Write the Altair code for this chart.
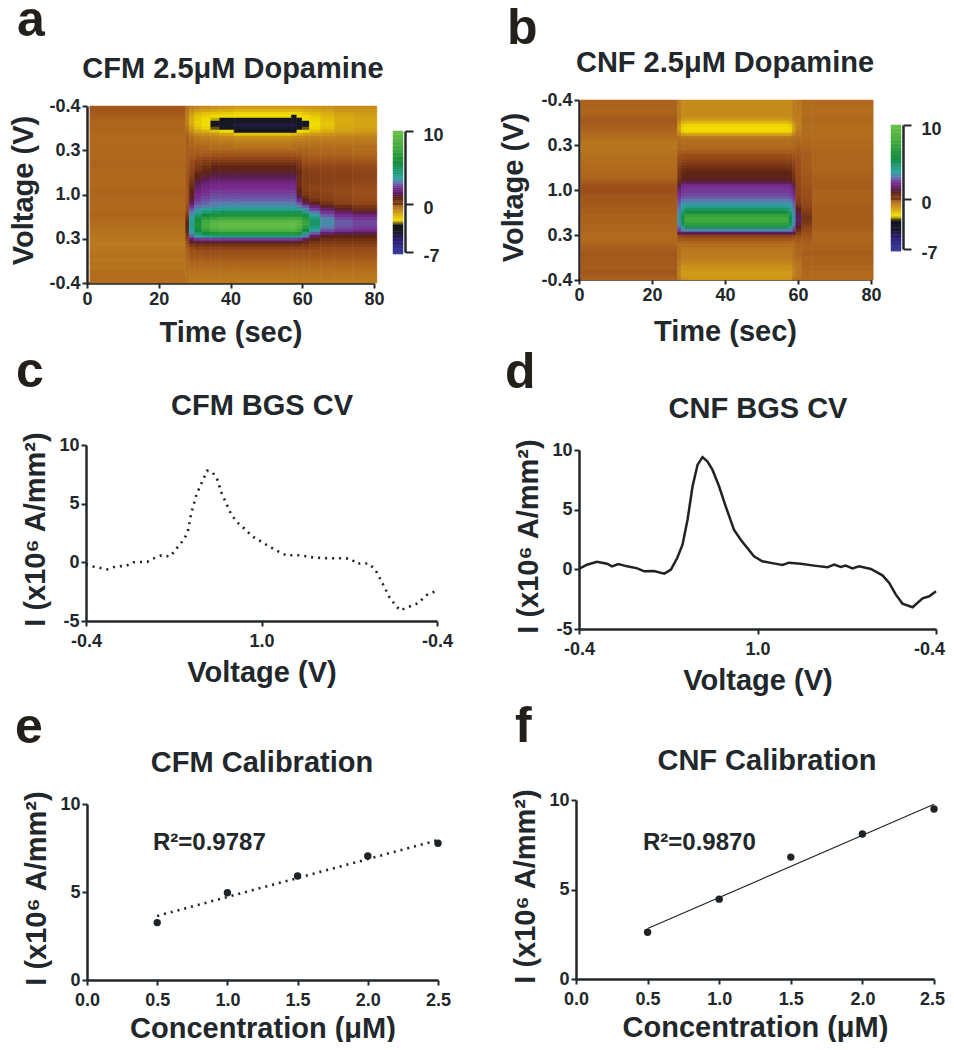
import altair as alt
import pandas as pd

W, H = 938, 1034
INK = "#22272b"
FONT = "Liberation Sans"

# ---------- colour map ----------
CMAP_V = [-7.3, -5.2, -4.2, -3.0, -2.7, -2.3, -1.2, -0.5, 0, 0.8, 1.4, 2.2, 3.0, 3.6, 4.4, 5.6, 7.5, 10]
CMAP_C = ["#3a40a0", "#2a1a70", "#1a1a28", "#14141c", "#8a7a10", "#f0dc00", "#cf9a18", "#b8761f", "#9c4f1a",
          "#5e2412", "#5a1f55", "#7a2a90", "#5f78b0", "#2fa0a0", "#1f9c78", "#128a3c", "#3ea83f", "#6cc04a"]
BAR_LEVELS = [-7.3, -7, -6.5, -6, -5.5, -5, -4.5, -4, -3.5, -3, -2.8, -2.6, -2.4, -2.2, -2, -1.75, -1.5, -1.25, -1,
              -0.75, -0.5, -0.25, 0, 0.25, 0.5, 0.75, 1, 1.25, 1.5, 1.75, 2, 2.25, 2.5, 2.75, 3, 3.25, 3.5, 3.75, 4,
              4.25, 4.5, 4.75, 5, 5.25, 5.5, 5.75, 6, 6.5, 7, 7.5, 8, 8.5, 9, 9.5, 10]

# ---------- panel a: current by time column (rows run top to bottom of the scan) ----------
A_TAIL = [-0.05, -0.1, -0.2, -0.3, -0.35, -0.4, -0.45, -0.5, -0.55, -0.6]
A_PLAT_MID = [-0.35, -0.2, -0.05, 0.15, 0.35, 0.6, 0.8, 0.95, 1.1, 1.3, 1.6, 1.9, 2.1, 2.2, 2.35, 2.5, 2.6, 2.8, 3.0]
A_PLAT_LOW = [3.4, 4, 5, 6.2, 7.5, 9, 9.6, 9.4, 8.5, 6.5, 4.5, 2.4, 1.1, 0.5, 0.2, 0]
A_COLS = [
 (0.8, 27.5,
  [-0.1,-0.1,-0.15,-0.2,-0.25,-0.3,-0.3,-0.3,-0.3,-0.35,-0.35,-0.35,-0.35,-0.35],
  [-0.35,-0.35,-0.35,-0.35,-0.3,-0.3,-0.3,-0.35,-0.35,-0.35,-0.35,-0.35,-0.35,-0.3,-0.3,-0.3,-0.3,-0.35,-0.35],
  [-0.35,-0.35,-0.3,-0.3,-0.35,-0.4,-0.4,-0.4,-0.45,-0.45,-0.5,-0.5,-0.55,-0.55,-0.5,-0.5],
  [-0.45,-0.45,-0.5,-0.45,-0.5,-0.45,-0.4,-0.4,-0.4,-0.4]),
 (27.5, 28.5,
  [-0.4,-0.5,-0.6,-0.7,-0.7,-0.7,-0.6,-0.5,-0.4,-0.3,-0.2,-0.2,-0.2,-0.2],
  [-0.2,-0.2,-0.2,-0.2,-0.2,-0.2,-0.15,-0.15,-0.1,-0.1,-0.1,-0.1,-0.1,-0.1,-0.1,-0.1,-0.1,-0.1,-0.1],
  [0,0.1,0.2,0.4,0.6,0.8,0.9,0.9,0.8,0.6,0.4,0.2,0,-0.1,-0.2,-0.25],
  [-0.3,-0.3,-0.35,-0.35,-0.4,-0.4,-0.45,-0.45,-0.45,-0.45]),
 (28.5, 30,
  [-0.6,-0.9,-1.2,-1.4,-1.5,-1.5,-1.4,-1.2,-0.9,-0.6,-0.4,-0.35,-0.3,-0.3],
  [-0.2,-0.2,-0.15,-0.1,0,0.1,0.1,0.2,0.2,0.3,0.4,0.5,0.6,0.7,0.8,0.9,1.0,1.2,1.5],
  [2.2,2.6,3,3.3,3.6,3.8,3.9,3.9,3.7,3.3,2.7,1.7,0.9,0.4,0.1,-0.05], A_TAIL),
 (30, 32,
  [-0.8,-1.2,-1.6,-1.9,-2.0,-2.1,-2.0,-1.8,-1.4,-0.9,-0.6,-0.5,-0.4,-0.3],
  [-0.25,-0.2,-0.1,0,0.2,0.3,0.4,0.5,0.7,0.8,1.0,1.3,1.5,1.7,1.9,2.1,2.2,2.4,2.6],
  [2.9,3.3,3.8,4.6,5.4,5.9,6.1,6,5.6,4.8,3.6,2.3,1.1,0.5,0.2,0], A_TAIL),
 (32, 34.5,
  [-0.9,-1.3,-1.8,-2.1,-2.3,-2.3,-2.3,-2.1,-1.6,-1.0,-0.7,-0.5,-0.45,-0.35],
  [-0.3,-0.2,-0.1,0.1,0.3,0.4,0.6,0.7,0.9,1.1,1.4,1.7,1.9,2.1,2.2,2.3,2.5,2.6,2.8],
  [3.1,3.6,4.5,5.6,6.6,7.6,8,7.8,7,5.7,4.2,2.4,1.1,0.5,0.2,0], A_TAIL),
 (34.5, 37,
  [-1.0,-1.4,-1.9,-2.3,-2.5,-3.3,-3.6,-2.8,-1.9,-1.1,-0.8,-0.6,-0.5,-0.4],
  A_PLAT_MID, [3.2,3.8,4.8,6,7.2,8.6,9.2,9,8,6.2,4.4,2.4,1.1,0.5,0.2,0], A_TAIL),
 (37, 41,
  [-1.1,-1.5,-2.0,-2.3,-3.3,-3.8,-4.0,-3.7,-2.3,-1.4,-0.9,-0.7,-0.5,-0.4],
  A_PLAT_MID, A_PLAT_LOW, A_TAIL),
 (41, 57,
  [-1.2,-1.6,-2.2,-2.3,-3.6,-4.0,-4.6,-4.2,-3.2,-1.9,-1.0,-0.8,-0.6,-0.5],
  A_PLAT_MID, A_PLAT_LOW, A_TAIL),
 (57, 58.5,
  [-1.2,-1.6,-2.2,-3.2,-3.7,-4.0,-4.6,-4.0,-3.1,-1.7,-0.9,-0.7,-0.5,-0.4],
  A_PLAT_MID, A_PLAT_LOW, A_TAIL),
 (58.5, 60,
  [-1.2,-1.6,-2.1,-2.3,-3.2,-3.8,-4.0,-3.6,-2.3,-1.5,-0.9,-0.7,-0.5,-0.4],
  [-0.3,-0.2,-0.1,0.1,0.3,0.4,0.5,0.6,0.7,0.6,0.6,0.6,0.6,0.7,0.8,1.0,1.5,2.0,2.6],
  [3,3.8,5,6.2,7.5,8.8,9,8.6,7.6,6.2,4.4,2.3,1,0.5,0.2,0], A_TAIL),
 (60, 62,
  [-1.1,-1.5,-1.9,-2.2,-2.3,-3.1,-3.4,-2.8,-2.2,-1.3,-0.8,-0.6,-0.5,-0.4],
  [-0.3,-0.25,-0.2,-0.1,0,0.1,0.2,0.3,0.35,0.35,0.35,0.35,0.3,0.3,0.35,0.4,0.6,0.9,1.5],
  [2.6,3.2,4.2,5.4,6.5,7.2,7.4,6.8,5.6,4.2,2.9,1.5,0.7,0.4,0.2,0], A_TAIL),
 (62, 65,
  [-1.1,-1.4,-1.7,-2.0,-2.2,-2.3,-2.3,-2.2,-1.8,-1.2,-0.8,-0.6,-0.5,-0.4],
  [-0.35,-0.3,-0.25,-0.15,-0.05,0.05,0.15,0.25,0.3,0.3,0.3,0.3,0.25,0.2,0.25,0.3,0.35,0.5,0.9],
  [1.8,2.4,3,3.6,4.4,4.8,4.8,4.3,3.6,2.7,1.6,0.8,0.5,0.3,0.15,0], A_TAIL),
 (65, 69,
  [-1.0,-1.3,-1.5,-1.7,-1.8,-1.9,-1.9,-1.8,-1.5,-1.1,-0.8,-0.6,-0.5,-0.4],
  [-0.35,-0.3,-0.25,-0.15,-0.05,0.05,0.15,0.2,0.25,0.25,0.25,0.25,0.2,0.15,0.15,0.2,0.25,0.3,0.5],
  [1,1.7,2.3,2.7,3.1,3.3,3.3,3,2.6,1.7,0.9,0.6,0.4,0.25,0.1,0], A_TAIL),
 (69, 74,
  [-0.9,-1.1,-1.3,-1.4,-1.5,-1.5,-1.5,-1.4,-1.3,-1.0,-0.7,-0.6,-0.5,-0.4],
  [-0.35,-0.3,-0.25,-0.15,-0.05,0.05,0.15,0.2,0.25,0.25,0.25,0.2,0.15,0.1,0.1,0.1,0.15,0.2,0.25],
  [0.6,1,1.6,2.2,2.5,2.7,2.7,2.6,2.3,1.4,0.8,0.55,0.4,0.25,0.1,0], A_TAIL),
 (74, 80.8,
  [-0.9,-1.1,-1.2,-1.3,-1.4,-1.4,-1.4,-1.3,-1.2,-0.9,-0.7,-0.6,-0.5,-0.4],
  [-0.4,-0.35,-0.3,-0.2,-0.1,0,0.1,0.15,0.2,0.2,0.2,0.15,0.1,0.05,0,0,0.05,0.1,0.15],
  [0.4,0.6,1.2,1.9,2.3,2.5,2.5,2.4,2.2,1.3,0.8,0.55,0.4,0.25,0.1,0], A_TAIL),
]

# ---------- panel b ----------
B_PRE = [-0.25,-0.25,-0.25,-0.3,-0.25,-0.2,-0.15,-0.15,-0.2,-0.25, -0.3,-0.35,-0.4,-0.45,-0.5,-0.5,-0.5,-0.45,-0.45,-0.4,
         -0.4,-0.4,-0.35,-0.35,-0.3,-0.3,-0.25,-0.15,-0.05,0, 0,-0.05,-0.1,-0.1,-0.15,-0.15,-0.2,-0.2,-0.25,-0.25,
         -0.25,-0.3,-0.3,-0.3,-0.35,-0.35,-0.35,-0.3,-0.25,-0.2, -0.15,-0.1,-0.15,-0.15,-0.15,-0.2,-0.15,-0.1,-0.15,-0.25]
B_EDGE = [-0.6,-0.6,-0.6,-0.6,-0.6,-0.6,-0.7,-0.9,-1.2,-1.3, -1.2,-0.8,-0.4,-0.35,-0.3,-0.3,-0.25,-0.15,-0.05,0,
          0.1,0.2,0.3,0.4,0.45,0.5,0.55,0.7,1.1,1.6, 1.9,2.1,2.3,2.5,2.7,2.8,3.0,3.2,3.3,3.4,
          3.4,3.2,2.8,2.4,1.1,0.1,-0.1,-0.3,-0.4,-0.4, -0.4,-0.4,-0.4,-0.5,-0.55,-0.6,-0.7,-0.7,-0.7,-0.6]
B_NEAR = [-0.9,-0.9,-0.9,-0.9,-0.9,-0.9,-1.1,-1.5,-2.0,-2.2, -2.1,-1.3,-0.5,-0.4,-0.4,-0.35,-0.3,-0.15,0,0.1,
          0.25,0.4,0.5,0.65,0.75,0.8,0.9,1.2,2.0,2.2, 2.3,2.4,2.6,2.9,3.3,3.6,4.0,4.6,5,5.3,
          5.3,4.8,4,3,1.4,0.2,-0.1,-0.3,-0.4,-0.5, -0.55,-0.6,-0.6,-0.7,-0.8,-1,-1.1,-1.2,-1.2,-1.1]
B_PLAT = [-0.9,-0.9,-0.9,-0.9,-0.9,-0.95,-1.2,-1.7,-2.2,-2.3, -2.25,-1.4,-0.6,-0.4,-0.4,-0.35,-0.3,-0.15,0,0.1,
          0.25,0.4,0.55,0.7,0.8,0.85,0.95,1.3,2.1,2.3, 2.35,2.5,2.7,3.0,3.3,3.8,4.8,5.8,7,7.6,
          7.6,6.8,5.0,3.2,1.4,0.2,-0.1,-0.3,-0.4,-0.5, -0.55,-0.6,-0.6,-0.7,-0.8,-1.0,-1.1,-1.2,-1.2,-1.1]
B_GLOW1 = [-0.5,-0.6,-0.6,-0.6,-0.6,-0.6,-0.6,-0.7,-0.7,-0.7, -0.6,-0.5,-0.4,-0.35,-0.3,-0.25,-0.2,-0.15,-0.1,-0.05,
           0,0,0,0.05,0.05,0.1,0.1,0.1,0.15,0.15, 0.2,0.2,0.25,0.3,0.4,0.6,0.9,1.2,1.4,1.5,
           1.5,1.3,1.0,0.6,0.3,0,-0.1,-0.2,-0.25,-0.3, -0.3,-0.3,-0.35,-0.4,-0.5,-0.5,-0.5,-0.5,-0.5,-0.45]
B_GLOW2 = [-0.35,-0.4,-0.4,-0.4,-0.4,-0.35,-0.35,-0.35,-0.4,-0.4, -0.4,-0.4,-0.35,-0.35,-0.3,-0.3,-0.25,-0.2,-0.2,-0.2,
           -0.2,-0.2,-0.15,-0.15,-0.15,-0.1,-0.1,-0.1,-0.05,-0.05, 0,0,0,0.05,0.1,0.15,0.25,0.35,0.45,0.5,
           0.45,0.35,0.2,0.1,0,-0.1,-0.15,-0.2,-0.25,-0.25, -0.2,-0.2,-0.25,-0.25,-0.25,-0.3,-0.3,-0.35,-0.35,-0.35]
B_POST = [-0.35,-0.35,-0.4,-0.4,-0.4,-0.35,-0.35,-0.35,-0.4,-0.4, -0.4,-0.4,-0.4,-0.35,-0.35,-0.35,-0.3,-0.3,-0.3,-0.3,
          -0.3,-0.3,-0.3,-0.3,-0.25,-0.25,-0.2,-0.2,-0.2,-0.2, -0.25,-0.25,-0.25,-0.25,-0.25,-0.2,-0.2,-0.2,-0.2,-0.2,
          -0.2,-0.2,-0.2,-0.25,-0.3,-0.3,-0.3,-0.3,-0.25,-0.25, -0.2,-0.2,-0.25,-0.25,-0.25,-0.3,-0.3,-0.35,-0.35,-0.35]
B_COLS = [(0.5, 27, B_PRE), (27, 28, B_EDGE), (28, 29, B_NEAR), (29, 57.5, B_PLAT), (57.5, 58.5, B_NEAR),
          (58.5, 59.4, B_EDGE), (59.4, 61, B_GLOW1), (61, 64, B_GLOW2), (64, 80.6, B_POST)]

# ---------- panels c, d: background subtracted CVs (x = position along the scan, 0..200) ----------
C_X = [0,4,12,17,23,27,35,38,43,48,52,56,58,60,63,66,69,72,75,77,80,83,87,90,95,100,105,110,114,122,130,138,147,151,154,161,165,170,173,176,179,182,189,194,200]
C_Y = [-0.15,-0.35,-0.6,-0.35,-0.3,0,0.05,0.3,0.6,0.5,1.25,2,2.6,4.2,5.8,6.8,7.8,7.7,7,6,5,4,3.3,2.9,2.2,1.75,1.3,0.9,0.6,0.6,0.4,0.35,0.35,0.3,-0.1,-0.1,-0.65,-2.1,-3,-3.6,-4.1,-3.9,-3.5,-2.8,-2.4]
D_X = [0,4.5,10,15.7,18.5,22,27,32.7,36.5,42,47.8,51.5,55,58,60.8,63.6,66.4,69.2,72,74.8,78.5,82.2,86.8,90.6,94.3,98,102.7,109,114,117.6,124.2,131.7,139.2,142.9,146.6,149.4,153.2,156.9,163.5,170,173.8,177.5,181.2,186.9,192.5,196.2,200]
D_Y = [0.03,0.39,0.64,0.47,0.25,0.45,0.25,0.08,-0.17,-0.14,-0.36,-0.03,0.95,2.06,4.15,6.94,8.75,9.4,9.03,8.33,6.94,5.27,3.32,2.48,1.78,1.09,0.67,0.5,0.36,0.56,0.47,0.31,0.17,0.39,0.2,0.31,0.08,0.25,0.03,-0.5,-1.14,-2.12,-2.87,-3.18,-2.43,-2.26,-1.84]

# ---------- panels e, f: calibrations ----------
CONC = [0.5, 1.0, 1.5, 2.0, 2.5]
E_Y = [3.26, 4.96, 5.91, 7.05, 7.77]
F_Y = [2.61, 4.46, 6.81, 8.10, 9.50]
FIT_X = [0.5, 2.5]
E_FIT = [3.64, 7.95]
F_FIT = [2.82, 9.76]

YLAB = "I (x10\u2076 A/mm\u00b2)"
TEXTS = [
    ("a", 17, 36, 50, "left", "#231f1b"), ("b", 507, 44, 50, "left", "#231f1b"),
    ("c", 16, 387, 50, "left", "#231f1b"), ("d", 505, 388, 50, "left", "#231f1b"),
    ("e", 15, 743, 50, "left", "#231f1b"), ("f", 515, 742, 50, "left", "#231f1b"),
    ("CFM 2.5\u03bcM Dopamine", 233, 78, 29, "center", INK), ("CNF 2.5\u03bcM Dopamine", 725, 72, 29, "center", INK),
    ("CFM BGS CV", 262, 415, 29, "center", INK), ("CNF BGS CV", 758, 418, 29, "center", INK),
    ("CFM Calibration", 262, 772, 29, "center", INK), ("CNF Calibration", 767, 770, 29, "center", INK),
    ("R\u00b2=0.9787", 153, 850, 24, "left", INK), ("R\u00b2=0.9870", 643, 850, 24, "left", INK),
]

AX = dict(grid=False, domainColor=INK, domainWidth=2.5, tickColor=INK, tickWidth=2, tickSize=5,
          labelFont=FONT, labelFontSize=18, labelFontWeight="bold", labelColor=INK,
          titleFont=FONT, titleFontSize=29, titleFontWeight="bold", titleColor=INK,
          labelFlush=False, labelOverlap=False, labelPadding=2)
COL = alt.Scale(domain=CMAP_V, range=CMAP_C, interpolate="rgb")
HYPHEN = "replace(datum.label,'\u2212','-')"


def sx(dom, x0, x1):
    return alt.Scale(domain=dom, range=[x0 - 8, x1 - 8], nice=False, zero=False)


def sy(dom, top, bottom):
    return alt.Scale(domain=dom, range=[bottom - 8, top - 8], nice=False, zero=False)


def last_nudge(value, dx):
    return {"condition": {"test": f"datum.value=={value}", "value": dx}, "value": 0}


def xaxis(px_y, title, ticks, expr=None, tpad=6, lpad=2, nudge=None):
    kw = dict(AX, orient="bottom", offset=-(H - (px_y - 8)), title=title, values=ticks, titlePadding=tpad, labelPadding=lpad)
    if expr:
        kw["labelExpr"] = expr
    if nudge:
        kw["labelOffset"] = last_nudge(*nudge)
    return alt.Axis(**kw)


def yaxis(px_x, title, ticks, title_y, expr=HYPHEN, tpad=4):
    kw = dict(AX, orient="left", offset=-(px_x - 8), title=title, values=ticks, titlePadding=tpad,
              labelExpr=expr, titleY=title_y - 8)
    return alt.Axis(**kw)


def heat(cols, top, bottom, xl, xr, axy, axx, n, tpad_x, tpad_y, title_y):
    rows = []
    step = 4 / n
    for c in cols:
        t0, t1 = c[0], c[1]
        vals = [v for part in c[2:] for v in part]
        for i, v in enumerate(vals):
            rows.append(dict(t0=t0, t1=t1, s0=i * step, s1=(i + 1) * step, v=v))
    expr = "datum.value==1||datum.value==3?'0.3':datum.value==2?'1.0':'-0.4'"
    return alt.Chart(pd.DataFrame(rows)).mark_rect(strokeWidth=0.5).encode(
        x=alt.X("t0:Q", scale=sx([0, 80], xl, xr), axis=xaxis(axy, "Time (sec)", [0, 20, 40, 60, 80], tpad=tpad_x)),
        x2="t1:Q",
        y=alt.Y("s0:Q", scale=sy([4, 0], top, bottom),
                axis=yaxis(axx, "Voltage (V)", [0, 1, 2, 3, 4], title_y, expr, tpad_y)),
        y2="s1:Q",
        color=alt.Color("v:Q", scale=COL, legend=None),
        stroke=alt.Stroke("v:Q", scale=COL, legend=None),
    )


def colorbar(x0, x1, axis_x, y10, y0, ym7):
    rows = [dict(lo=a, hi=b, v=(a + b) / 2) for a, b in zip(BAR_LEVELS[:-1], BAR_LEVELS[1:])]
    scale = alt.Scale(domain=[-7, 0, 10], range=[ym7 - 8, y0 - 8, y10 - 8], nice=False, zero=False)
    ax = alt.Axis(**dict(AX, orient="right", offset=-(W - (axis_x - 8)), title=None, values=[-7, 0, 10],
                         labelOffset=4, labelPadding=10, tickSize=8, labelExpr=HYPHEN))
    bar = alt.Chart(pd.DataFrame(rows)).mark_rect(strokeWidth=0.5).encode(
        x=alt.value(x0 - 8), x2=alt.value(x1 - 8),
        y=alt.Y("lo:Q", scale=scale, axis=ax), y2="hi:Q",
        color=alt.Color("v:Q", scale=COL, legend=None),
        stroke=alt.Stroke("v:Q", scale=COL, legend=None),
    )
    zero = alt.Chart(pd.DataFrame({"z": [0]})).mark_rule(color="#3a2a18", strokeWidth=1).encode(
        x=alt.value(x0 - 8), x2=alt.value(x1 - 8),
        y=alt.Y("z:Q", scale=scale, axis=None),
    )
    return [bar, zero]


def cv(xs, ys, x0, x1, top, bottom, dash, width, tpad_x, tpad_y, title_y, nudge=None):
    df = pd.DataFrame({"x": xs, "y": ys})
    expr = "datum.value==100?'1.0':'-0.4'"
    mk = dict(color="#1f2326", strokeWidth=width)
    if dash:
        mk["strokeDash"] = dash
    return alt.Chart(df).mark_line(**mk).encode(
        x=alt.X("x:Q", scale=sx([0, 200], x0, x1),
                axis=xaxis(bottom, "Voltage (V)", [0, 100, 200], expr, tpad=tpad_x, lpad=6, nudge=nudge)),
        y=alt.Y("y:Q", scale=sy([-5, 10], top, bottom), axis=yaxis(x0, YLAB, [-5, 0, 5, 10], title_y, tpad=tpad_y)),
    )


def calib(ys, fit, x0, x1, top, bottom, dash, width, title_y, nudge=None):
    xs_ax = xaxis(bottom, "Concentration (\u03bcM)", [0, 0.5, 1.0, 1.5, 2.0, 2.5], "format(datum.value,'.1f')",
                  tpad=5, lpad=6, nudge=nudge)
    pts = alt.Chart(pd.DataFrame({"x": CONC, "y": ys})).mark_point(filled=True, size=55, color="#1f2326", opacity=1).encode(
        x=alt.X("x:Q", scale=sx([0, 2.5], x0, x1), axis=xs_ax),
        y=alt.Y("y:Q", scale=sy([0, 10], top, bottom), axis=yaxis(x0, YLAB, [0, 5, 10], title_y, tpad=8)),
    )
    mk = dict(color="#1f2326", strokeWidth=width)
    if dash:
        mk["strokeDash"] = dash
    line = alt.Chart(pd.DataFrame({"x": FIT_X, "y": fit})).mark_line(**mk).encode(
        x=alt.X("x:Q", scale=sx([0, 2.5], x0, x1), axis=None),
        y=alt.Y("y:Q", scale=sy([0, 10], top, bottom), axis=None),
    )
    return [pts, line]


text_df = pd.DataFrame(TEXTS, columns=["t", "px", "py", "fs", "al", "c"])
text_layers = []
for _, r in text_df.iterrows():
    text_layers.append(
        alt.Chart(pd.DataFrame({"t": [r.t]})).mark_text(
            font=FONT, fontWeight="bold", fontSize=int(r.fs), align=r.al, baseline="alphabetic", color=r.c
        ).encode(text="t:N", x=alt.value(int(r.px) - 8), y=alt.value(int(r.py) - 8))
    )

layers = [
    heat(A_COLS, 106, 283, 87, 374, 283, 87, 59, 10, 10, 190),
    heat(B_COLS, 100, 280, 579, 871, 279, 579, 60, 13, 12, 187),
] + colorbar(393, 403, 405, 131, 204, 252) + colorbar(891, 901, 903, 125, 199, 249) + [
    cv(C_X, C_Y, 86, 437, 445, 621, [2, 5], 2.6, 8, 8, 529),
    cv(D_X, D_Y, 579, 936, 450, 629, None, 2.5, 8, 8, 536, nudge=(200, -7)),
] + calib(E_Y, E_FIT, 87, 438, 804, 980, [2, 5], 2.6, 888) + calib(F_Y, F_FIT, 576, 934, 800, 979, None, 1.1, 886, nudge=(2.5, -2)) + text_layers

chart = alt.layer(*layers).resolve_scale(x="independent", y="independent").properties(
    width=W, height=H, padding=0, autosize=alt.AutoSizeParams(type="none")
).configure_view(stroke=None)

chart.save("out.html", embed_options={"renderer": "svg", "actions": False})
